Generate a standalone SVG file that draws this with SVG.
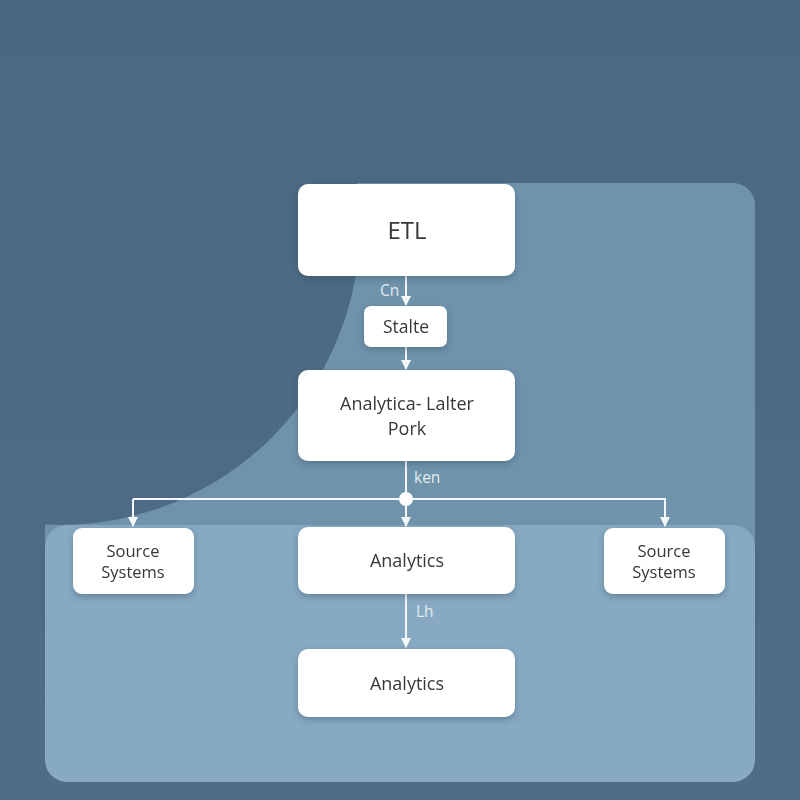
<svg xmlns="http://www.w3.org/2000/svg" width="800" height="800" viewBox="0 0 800 800">
<defs>
<style>
.node rect{fill:#ffffff;}
.node text{font-family:"Open Sans","Liberation Sans",sans-serif;fill:#34383c;text-anchor:middle;}
.conn line,.conn path{stroke:#f4f7fa;stroke-width:2;fill:none;}
.lbl{font-family:"Open Sans","Liberation Sans",sans-serif;font-size:15.5px;fill:#e2ebf2;}
</style>
<linearGradient id="bg" gradientUnits="userSpaceOnUse" x1="0" y1="0" x2="0" y2="800">
<stop offset="0" stop-color="#4a6881"/>
<stop offset="1" stop-color="#4f6d86"/>
</linearGradient>
<clipPath id="pc">
<rect x="40" y="178" width="720" height="390"/>
</clipPath>
<filter id="sh" x="-20%" y="-20%" width="140%" height="150%">
<feDropShadow dx="0" dy="3" stdDeviation="3" flood-color="#2c4356" flood-opacity="0.35"/>
</filter>
<marker id="ah" viewBox="0 0 10 10" refX="9" refY="5" markerWidth="10" markerHeight="10" markerUnits="userSpaceOnUse" orient="auto">
<path d="M0,0 L10,5 L0,10 z" fill="#f4f7fa"/>
</marker>
</defs>
<rect x="0" y="0" width="800" height="800" fill="url(#bg)"/>
<g id="panels">
<rect x="45" y="183" width="710" height="380" rx="22" fill="#6f93ab"/>
<circle cx="60" cy="225" r="300" fill="url(#bg)" clip-path="url(#pc)"/>
<rect x="45" y="525" width="710" height="257" rx="22" fill="#87a9c1"/>
</g>
<g class="conn" id="connectors">
<line x1="406" y1="276" x2="406" y2="305" marker-end="url(#ah)"/>
<line x1="406" y1="347" x2="406" y2="369" marker-end="url(#ah)"/>
<line x1="406" y1="461" x2="406" y2="499"/>
<path d="M133,499 L665,499 L665,526" marker-end="url(#ah)"/>
<line x1="133" y1="499" x2="133" y2="526" marker-end="url(#ah)"/>
<line x1="406" y1="499" x2="406" y2="526" marker-end="url(#ah)"/>
<circle cx="406" cy="499" r="7" fill="#ffffff" stroke="none"/>
<line x1="406" y1="594" x2="406" y2="647" marker-end="url(#ah)"/>
<text class="lbl" x="380" y="296">Cn</text>
<text class="lbl" x="414" y="483">ken</text>
<text class="lbl" x="416" y="617">Lh</text>
</g>
<g class="node" id="etl" filter="url(#sh)">
<rect x="298" y="184" width="217" height="92" rx="10"/>
<text x="407" y="239" font-size="24">ETL</text>
</g>
<g class="node" id="stalte" filter="url(#sh)">
<rect x="364" y="306" width="83" height="41" rx="7"/>
<text x="406" y="333" font-size="17.5">Stalte</text>
</g>
<g class="node" id="analytica" filter="url(#sh)">
<rect x="298" y="370" width="217" height="91" rx="10"/>
<text x="407" y="410" font-size="18">Analytica- Lalter</text>
<text x="407" y="435" font-size="18">Pork</text>
</g>
<g class="node" id="source-left" filter="url(#sh)">
<rect x="73" y="528" width="121" height="66" rx="9"/>
<text x="133" y="557" font-size="16.5">Source</text>
<text x="133" y="578" font-size="16.5">Systems</text>
</g>
<g class="node" id="analytics-mid" filter="url(#sh)">
<rect x="298" y="527" width="217" height="67" rx="10"/>
<text x="407" y="567" font-size="18">Analytics</text>
</g>
<g class="node" id="source-right" filter="url(#sh)">
<rect x="604" y="528" width="121" height="66" rx="9"/>
<text x="664" y="557" font-size="16.5">Source</text>
<text x="664" y="578" font-size="16.5">Systems</text>
</g>
<g class="node" id="analytics-bottom" filter="url(#sh)">
<rect x="298" y="649" width="217" height="68" rx="10"/>
<text x="407" y="690" font-size="18">Analytics</text>
</g>
</svg>
